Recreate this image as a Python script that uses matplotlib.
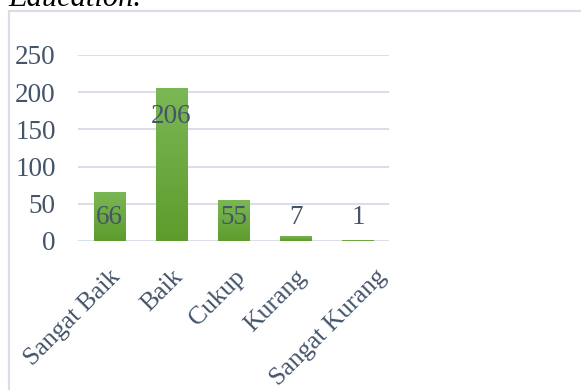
import numpy as np
import matplotlib
matplotlib.use("Agg")
import matplotlib.pyplot as plt
import matplotlib.transforms as mtransforms
from matplotlib.lines import Line2D
from matplotlib.colors import LinearSegmentedColormap

categories = ["Sangat Baik", "Baik", "Cukup", "Kurang", "Sangat Kurang"]
values = [66, 206, 55, 7, 1]
yticks = [0, 50, 100, 150, 200, 250]

text_col = "#44546a"
grid_col = "#d9dee6"
serif = ["Liberation Serif", "DejaVu Serif"]
fs = 19.5

fig = plt.figure(figsize=(5.81, 3.90), dpi=100)
ax = fig.add_axes([78 / 581, 1 - 241 / 390, (389 - 78) / 581, (241 - 55) / 390])

x = np.arange(len(categories))
bars = ax.bar(x, values, width=0.5, color="#70ad47", zorder=2)

# gradient fill, lighter at top
cmap = LinearSegmentedColormap.from_list("g", ["#5d9c2c", "#7cb756"])
grad = np.linspace(0, 1, 100).reshape(-1, 1)
for b in bars:
    bx, by = b.get_x(), b.get_y()
    bw, bh = b.get_width(), b.get_height()
    im = ax.imshow(grad, cmap=cmap, origin="lower", aspect="auto",
                   extent=[bx, bx + bw, by, by + bh], zorder=3)
    im.set_clip_path(b)

ax.set_xlim(-0.5, len(categories) - 0.5)
ax.set_ylim(0, 250)
ax.set_yticks(yticks)
ax.set_yticklabels([str(t) for t in yticks], fontfamily=serif, fontsize=fs, color=text_col)
ax.set_xticks(x)
ax.set_xticklabels(categories, fontfamily=serif, fontsize=18.5, color=text_col,
                   rotation=45, ha="right", va="top", rotation_mode="anchor")
ax.tick_params(axis="y", length=0, pad=16)
ax.tick_params(axis="x", length=0, pad=18)
# excel pushed the long last label a bit to the right
last = ax.get_xticklabels()[-1]
last.set_transform(last.get_transform() +
                   mtransforms.ScaledTranslation(17 / 100, 0, fig.dpi_scale_trans))
ax.grid(axis="y", color=grid_col, linewidth=1.4, zorder=0)
for s in ax.spines.values():
    s.set_visible(False)

# data labels
for i, v in enumerate(values):
    ax.text(i, max(v - 39, 32), str(v), ha="center", va="center",
            fontfamily=serif, fontsize=fs, color=text_col, zorder=5)

# chart frame (cropped screenshot)
fx = 9 / 581
fy = 1 - 10.5 / 390
fig.add_artist(Line2D([fx, fx, 1], [0, fy, fy], color="#d9dde5", linewidth=1.6,
                      transform=fig.transFigure))

# cut off heading
fig.text(8 / 581, 1 - 6 / 390, "Education.", ha="left", va="baseline",
         fontfamily=serif, fontstyle="italic", fontsize=22, color="black")

fig.savefig("out.png", dpi=100)
